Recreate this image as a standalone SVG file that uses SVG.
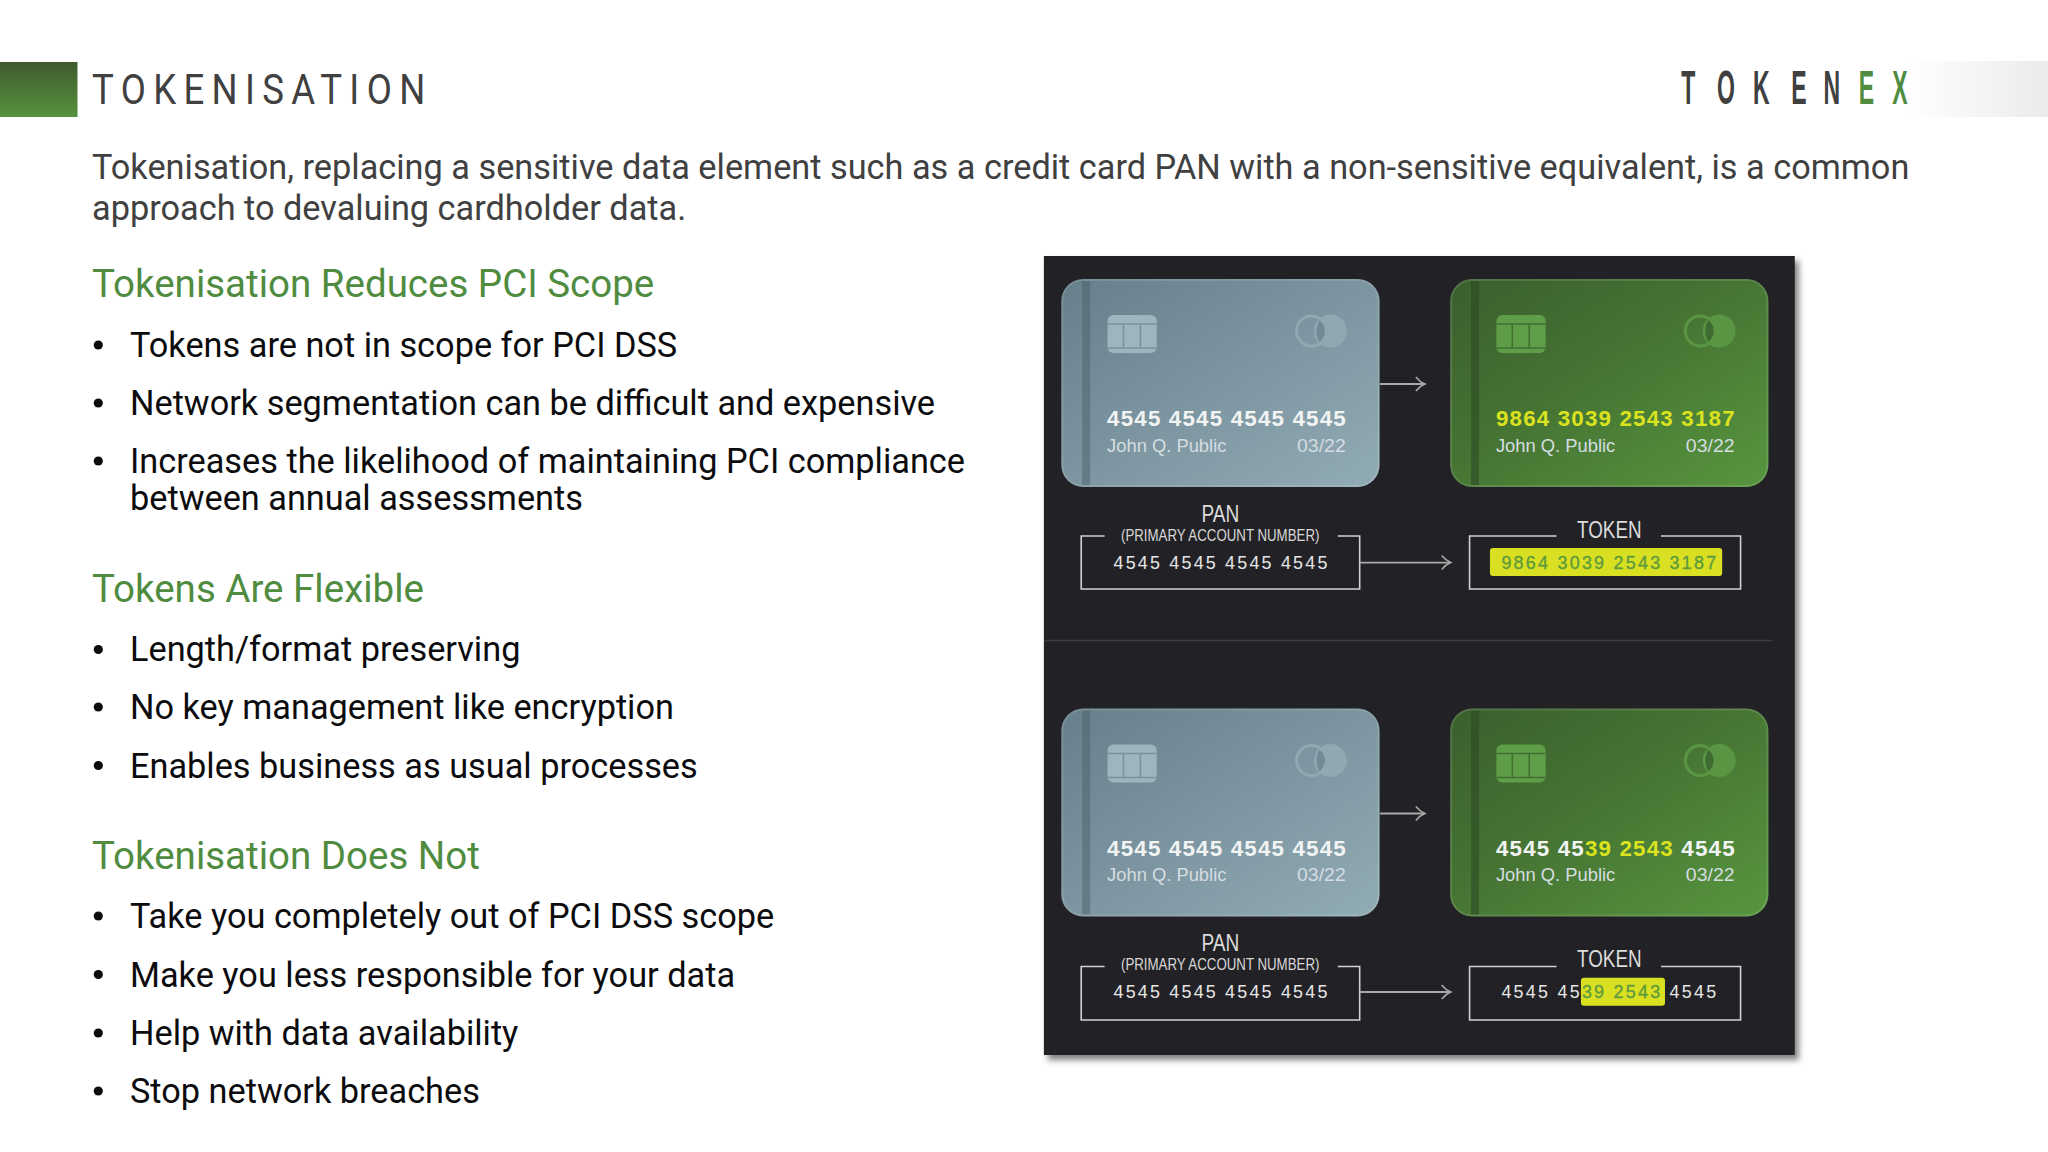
<svg xmlns="http://www.w3.org/2000/svg" xmlns:xlink="http://www.w3.org/1999/xlink" width="2048" height="1152" viewBox="0 0 2048 1152">
<style>
text{font-family:Roboto,"Liberation Sans",sans-serif}
.lib,.lib tspan{font-family:"Liberation Sans",Arial,sans-serif}
.title{font-size:42px;fill:#404041}
.intro{font-size:34.3px;fill:#404041}
.h{font-size:38.5px;fill:#4f8c3f}
.b{font-size:34.3px;fill:#0c0c0e}
.num{font-size:22.5px;font-weight:700;fill:#f2f4f4}
.y{fill:#dbe31f}
.name{font-size:18.5px;fill:#d5dde0}
.lab{font-size:23px;fill:#dcdcdc}
.sub{font-size:17px;fill:#d8d8d8}
.box{fill:none;stroke:#d2d2d2;stroke-width:1.6}
.bn{font-size:18px;fill:#e6e6e6}
.gn{fill:#5e9a3e;stroke:#5e9a3e;stroke-width:.35}
.hl{fill:#d9e021}
.conn{fill:none;stroke:#a9a9a9;stroke-width:1.8;marker-end:url(#chev)}
.dot{fill:#0c0c0e}
.rim{fill:none;stroke:#fff;stroke-opacity:.12;stroke-width:2}
</style>
<defs>
<linearGradient id="sq" x1="0" y1="0" x2="0" y2="1"><stop offset="0" stop-color="#3f5a2d"/><stop offset="1" stop-color="#57933f"/></linearGradient>
<linearGradient id="fade" x1="0" y1="0" x2="1" y2="0"><stop offset="0" stop-color="#fff"/><stop offset="1" stop-color="#ebebeb"/></linearGradient>
<linearGradient id="grey" x1="0" y1="0" x2="1" y2="1"><stop offset="0" stop-color="#667f8a"/><stop offset=".45" stop-color="#7a939e"/><stop offset="1" stop-color="#92acb6"/></linearGradient>
<linearGradient id="green" x1="0" y1="0" x2="1" y2="1"><stop offset="0" stop-color="#3a5f2d"/><stop offset=".45" stop-color="#467433"/><stop offset="1" stop-color="#57963f"/></linearGradient>
<filter id="shadow" x="-5%" y="-5%" width="110%" height="110%"><feDropShadow dx="4" dy="5" stdDeviation="3" flood-color="#000" flood-opacity=".5"/></filter>
<marker id="chev" markerUnits="userSpaceOnUse" markerWidth="14" markerHeight="18" refX="11" refY="9" orient="auto"><path d="M2,2 Q6,7 11,9 Q6,11 2,16" fill="none" stroke="#a9a9a9" stroke-width="1.6"/></marker>
<g id="chipGrey"><rect x="46.5" y="36" width="49.5" height="38" rx="6" fill="#9db5bd"/><path d="M46.5,45H96M46.5,69H96M62.5,45V69M79.5,45V69" stroke="#7a939d" stroke-width="1.6" fill="none"/></g>
<g id="chipGreen"><rect x="46.5" y="36" width="49.5" height="38" rx="6" fill="#5f9e48"/><path d="M46.5,45H96M46.5,69H96M62.5,45V69M79.5,45V69" stroke="#3f7030" stroke-width="1.6" fill="none"/></g>
<g id="logoGrey"><circle cx="270.5" cy="52" r="16.5" fill="#8fa8b1"/><path d="M261,39Q252,52 261,65Q270,52 261,39Z" fill="#718a95"/><circle cx="251.5" cy="52" r="15" fill="none" stroke="#8fa8b1" stroke-width="3"/></g>
<g id="logoGreen"><circle cx="270.5" cy="52" r="16.5" fill="#5a9544"/><path d="M261,39Q252,52 261,65Q270,52 261,39Z" fill="#3f6b30"/><circle cx="251.5" cy="52" r="15" fill="none" stroke="#5a9544" stroke-width="3"/></g>
</defs>
<rect width="2048" height="1152" fill="#fff"/>

<g id="header">
<rect x="0" y="62" width="77.5" height="55" fill="url(#sq)"/>
<text class="title" transform="translate(92,104) scale(.87,1)" x="0" y="0" textLength="383" lengthAdjust="spacing">TOKENISATION</text>
<rect x="1905" y="61" width="143" height="56" fill="url(#fade)"/>
<text id="logo" class="lib" transform="translate(0,104) scale(.47,1)" font-size="49" font-weight="700" fill="#404041"><tspan x="3577">T</tspan><tspan x="3653">O</tspan><tspan x="3730">K</tspan><tspan x="3811">E</tspan><tspan x="3880">N</tspan><tspan x="3955" fill="#4f8c3f">E</tspan><tspan x="4026" fill="#4f8c3f">X</tspan></text>
</g>

<g id="intro">
<text class="intro" x="92" y="179">Tokenisation, replacing a sensitive data element such as a credit card PAN with a non-sensitive equivalent, is a common</text>
<text class="intro" x="92" y="220">approach to devaluing cardholder data.</text>
</g>

<g id="section-reduces">
<text class="h" x="92" y="297">Tokenisation Reduces PCI Scope</text>
<circle class="dot" cx="98.3" cy="345" r="4.6"/><text class="b" x="130" y="357">Tokens are not in scope for PCI DSS</text>
<circle class="dot" cx="98.3" cy="403" r="4.6"/><text class="b" x="130" y="415">Network segmentation can be difficult and expensive</text>
<circle class="dot" cx="98.3" cy="461" r="4.6"/><text class="b" x="130" y="473">Increases the likelihood of maintaining PCI compliance</text>
<text class="b" x="130" y="510">between annual assessments</text>
</g>
<g id="section-flexible">
<text class="h" x="92" y="602">Tokens Are Flexible</text>
<circle class="dot" cx="98.3" cy="649.5" r="4.6"/><text class="b" x="130" y="660.7">Length/format preserving</text>
<circle class="dot" cx="98.3" cy="707" r="4.6"/><text class="b" x="130" y="719">No key management like encryption</text>
<circle class="dot" cx="98.3" cy="765.5" r="4.6"/><text class="b" x="130" y="777.5">Enables business as usual processes</text>
</g>
<g id="section-not">
<text class="h" x="92" y="868.7">Tokenisation Does Not</text>
<circle class="dot" cx="98.3" cy="916" r="4.6"/><text class="b" x="130" y="928">Take you completely out of PCI DSS scope</text>
<circle class="dot" cx="98.3" cy="974.5" r="4.6"/><text class="b" x="130" y="986.5">Make you less responsible for your data</text>
<circle class="dot" cx="98.3" cy="1033" r="4.6"/><text class="b" x="130" y="1044.7">Help with data availability</text>
<circle class="dot" cx="98.3" cy="1091" r="4.6"/><text class="b" x="130" y="1103">Stop network breaches</text>
</g>

<g id="figure" transform="translate(1030,0) scale(.9945,1) translate(-1030,0)">
<g id="panel">
<rect x="1044" y="256" width="755" height="799" fill="#242326" filter="url(#shadow)"/>
<path d="M1044,640.5H1777" stroke="#3d3d40" stroke-width="1.5"/>
</g>

<g id="card-pan-top" transform="translate(1061.5,279)">
<rect width="320" height="208" rx="22" fill="url(#grey)"/>
<rect x="21" y="2" width="8" height="204" fill="#4c626c" opacity=".5"/>
<rect class="rim" x="1" y="1" width="318" height="206" rx="21"/>
<use href="#chipGrey"/><use href="#logoGrey"/>
<text class="lib num" x="46" y="147" textLength="240" lengthAdjust="spacing">4545 4545 4545 4545</text>
<text class="lib name" x="46" y="173" textLength="120" lengthAdjust="spacingAndGlyphs">John Q. Public</text>
<text class="lib name" x="237" y="173" textLength="49" lengthAdjust="spacingAndGlyphs">03/22</text>
</g>
<g id="card-token-top" transform="translate(1452.5,279)">
<rect width="320" height="208" rx="22" fill="url(#green)"/>
<rect x="21" y="2" width="8" height="204" fill="#2d4a24" opacity=".6"/>
<rect class="rim" x="1" y="1" width="318" height="206" rx="21"/>
<use href="#chipGreen"/><use href="#logoGreen"/>
<text class="lib num y" x="46" y="147" textLength="240" lengthAdjust="spacing">9864 3039 2543 3187</text>
<text class="lib name" x="46" y="173" textLength="120" lengthAdjust="spacingAndGlyphs">John Q. Public</text>
<text class="lib name" x="237" y="173" textLength="49" lengthAdjust="spacingAndGlyphs">03/22</text>
</g>
<g id="box-pan-top">
<path class="box" d="M1105,536H1081.5V589H1361.5V536H1339.5"/>
<text class="lib lab" x="1202.5" y="522" textLength="38" lengthAdjust="spacingAndGlyphs">PAN</text>
<text class="lib sub" x="1121.5" y="541" textLength="199.5" lengthAdjust="spacingAndGlyphs">(PRIMARY ACCOUNT NUMBER)</text>
<text class="lib bn" x="1114" y="569" textLength="215" lengthAdjust="spacing">4545 4545 4545 4545</text>
</g>
<g id="box-token-top">
<path class="box" d="M1559.5,536H1472V589H1744.5V536H1664.5"/>
<text class="lib lab" x="1580" y="538" textLength="65" lengthAdjust="spacingAndGlyphs">TOKEN</text>
<rect class="hl" x="1492.5" y="548" width="233.5" height="28" rx="3"/>
<text class="lib bn gn" x="1504" y="569" textLength="216" lengthAdjust="spacing">9864 3039 2543 3187</text>
</g>

<g id="card-pan-bottom" transform="translate(1061.5,708.5)">
<rect width="320" height="208" rx="22" fill="url(#grey)"/>
<rect x="21" y="2" width="8" height="204" fill="#4c626c" opacity=".5"/>
<rect class="rim" x="1" y="1" width="318" height="206" rx="21"/>
<use href="#chipGrey"/><use href="#logoGrey"/>
<text class="lib num" x="46" y="147.5" textLength="240" lengthAdjust="spacing">4545 4545 4545 4545</text>
<text class="lib name" x="46" y="173" textLength="120" lengthAdjust="spacingAndGlyphs">John Q. Public</text>
<text class="lib name" x="237" y="173" textLength="49" lengthAdjust="spacingAndGlyphs">03/22</text>
</g>
<g id="card-token-bottom" transform="translate(1452.5,708.5)">
<rect width="320" height="208" rx="22" fill="url(#green)"/>
<rect x="21" y="2" width="8" height="204" fill="#2d4a24" opacity=".6"/>
<rect class="rim" x="1" y="1" width="318" height="206" rx="21"/>
<use href="#chipGreen"/><use href="#logoGreen"/>
<text class="lib num" x="46" y="147.5" textLength="240" lengthAdjust="spacing">4545 45<tspan class="y">39 2543</tspan> 4545</text>
<text class="lib name" x="46" y="173" textLength="120" lengthAdjust="spacingAndGlyphs">John Q. Public</text>
<text class="lib name" x="237" y="173" textLength="49" lengthAdjust="spacingAndGlyphs">03/22</text>
</g>
<g id="box-pan-bottom">
<path class="box" d="M1105,966.5H1081.5V1020H1361.5V966.5H1339.5"/>
<text class="lib lab" x="1202.5" y="951.5" textLength="38" lengthAdjust="spacingAndGlyphs">PAN</text>
<text class="lib sub" x="1121.5" y="970.5" textLength="199.5" lengthAdjust="spacingAndGlyphs">(PRIMARY ACCOUNT NUMBER)</text>
<text class="lib bn" x="1114" y="998.5" textLength="215" lengthAdjust="spacing">4545 4545 4545 4545</text>
</g>
<g id="box-token-bottom">
<path class="box" d="M1559.5,966.5H1472V1020H1744.5V966.5H1664.5"/>
<text class="lib lab" x="1580" y="967.5" textLength="65" lengthAdjust="spacingAndGlyphs">TOKEN</text>
<rect class="hl" x="1584" y="977.7" width="84.5" height="28" rx="3"/>
<text class="lib bn" x="1504" y="998.5" textLength="216" lengthAdjust="spacing">4545 45<tspan class="gn">39 2543</tspan> 4545</text>
</g>

<g id="connectors">
<path class="conn" d="M1382,384H1427"/>
<path class="conn" d="M1361.5,562.6H1453"/>
<path class="conn" d="M1382,813.5H1427"/>
<path class="conn" d="M1361.5,992H1453"/>
</g>
</g>
</svg>
